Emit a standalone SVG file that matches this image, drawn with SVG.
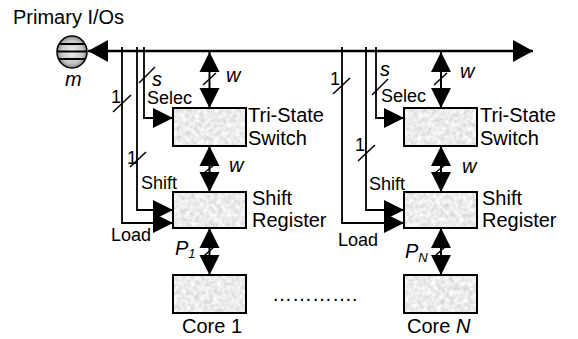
<svg xmlns="http://www.w3.org/2000/svg" width="578" height="339" viewBox="0 0 578 339">
<style>
text{font-family:"Liberation Sans",Arial,sans-serif;fill:#000}
.lbl{font-size:20px}
.sm{font-size:18px}
.it{font-style:italic}
.fillbox{fill:#eeeeee;filter:url(#granite)}
.box{fill:none;stroke:#000;stroke-width:2}
.bus{fill:none;stroke:#000;stroke-width:2.5}
.sl{fill:none;stroke:#000;stroke-width:1.5}
.bi{fill:none;stroke:#000;stroke-width:2;marker-start:url(#ah);marker-end:url(#ah)}
.in{fill:none;stroke:#000;stroke-width:1.8;marker-end:url(#ah)}
</style>
<defs>
<marker id="ah" viewBox="0 0 20 21" refX="20" refY="10.5" markerWidth="20" markerHeight="21" markerUnits="userSpaceOnUse" orient="auto-start-reverse">
<path d="M0,0.5 L20,10.5 L0,20.5 Z" fill="#000"/>
</marker>
<marker id="bh" viewBox="0 0 20 22" refX="20" refY="11" markerWidth="20" markerHeight="22" markerUnits="userSpaceOnUse" orient="auto-start-reverse">
<path d="M0,0 L20,11 L0,22 Z" fill="#000"/>
</marker>
<radialGradient id="io" cx="50%" cy="50%" r="50%">
<stop offset="0" stop-color="#f0f0f0"/>
<stop offset="0.7" stop-color="#c8c8c8"/>
<stop offset="1" stop-color="#8a8a8a"/>
</radialGradient>
<filter id="granite" x="0" y="0" width="1" height="1" color-interpolation-filters="sRGB">
<feTurbulence type="fractalNoise" baseFrequency="0.22" numOctaves="3" seed="7" result="n"/>
<feColorMatrix in="n" type="matrix" values="0.25 0 0 0 0.8  0.25 0 0 0 0.8  0.25 0 0 0 0.8  0 0 0 0 1"/>
</filter>
<clipPath id="ioclip"><ellipse cx="72" cy="52" rx="15" ry="16"/></clipPath>
</defs>

<g id="primary-io">
<text class="lbl" x="13" y="24" font-size="21">Primary I/Os</text>
<ellipse cx="72" cy="52" rx="15" ry="16" fill="url(#io)" stroke="#000" stroke-width="1.5"/>
<g clip-path="url(#ioclip)" stroke="#000" stroke-width="2">
<line x1="55" y1="44" x2="90" y2="44"/>
<line x1="55" y1="51.5" x2="90" y2="51.5"/>
<line x1="55" y1="59" x2="90" y2="59"/>
</g>
<text class="lbl it" x="65" y="86">m</text>
</g>

<g id="tristate1">
<rect class="fillbox" x="173" y="108" width="73" height="38"/>
<rect class="box" x="173" y="108" width="73" height="38"/>
<text class="lbl" x="248" y="122">Tri-State</text>
<text class="lbl" x="248" y="145">Switch</text>
</g>
<g id="shiftreg1">
<rect class="fillbox" x="173" y="192" width="73" height="36"/>
<rect class="box" x="173" y="192" width="73" height="36"/>
<text class="lbl" x="252" y="205">Shift</text>
<text class="lbl" x="252" y="227">Register</text>
</g>
<g id="core1">
<rect class="fillbox" x="173" y="275" width="73" height="38"/>
<rect class="box" x="173" y="275" width="73" height="38"/>
<text class="lbl" x="182" y="333">Core 1</text>
</g>
<g id="tristateN">
<rect class="fillbox" x="404" y="108" width="73" height="38"/>
<rect class="box" x="404" y="108" width="73" height="38"/>
<text class="lbl" x="480" y="122">Tri-State</text>
<text class="lbl" x="480" y="145">Switch</text>
</g>
<g id="shiftregN">
<rect class="fillbox" x="404" y="192" width="73" height="36"/>
<rect class="box" x="404" y="192" width="73" height="36"/>
<text class="lbl" x="482" y="205">Shift</text>
<text class="lbl" x="482" y="227">Register</text>
</g>
<g id="coreN">
<rect class="fillbox" x="404" y="275" width="73" height="38"/>
<rect class="box" x="404" y="275" width="73" height="38"/>
<text class="lbl" x="407" y="333">Core <tspan class="it">N</tspan></text>
</g>
<g id="dots">
<text class="lbl" x="272" y="301">………….</text>
</g>

<g id="connectors">
<line class="bus" x1="88" y1="51" x2="533" y2="51" marker-start="url(#bh)" marker-end="url(#bh)"/>

<path class="in" d="M122,47 V223 H173"/>
<path class="in" d="M137,47 V210 H173"/>
<path class="in" d="M144,47 V118 H173"/>
<line class="sl" x1="113" y1="112" x2="131" y2="95"/>
<line class="sl" x1="130" y1="167" x2="146" y2="152"/>
<line class="sl" x1="139" y1="83" x2="155" y2="67"/>
<text class="sm" x="111" y="103">1</text>
<text class="sm" x="127" y="164">1</text>
<text class="lbl it" x="152" y="86">s</text>
<text class="sm" x="147" y="104">Selec</text>
<text class="sm" x="141" y="189">Shift</text>
<text class="sm" x="111" y="241">Load</text>

<line class="bi" x1="209.5" y1="52" x2="209.5" y2="108"/>
<line class="sl" x1="203" y1="85" x2="216" y2="73"/>
<text class="lbl it" x="226" y="82">w</text>
<line class="bi" x1="209.5" y1="146" x2="209.5" y2="192"/>
<line class="sl" x1="204" y1="173" x2="214" y2="165"/>
<text class="lbl it" x="229" y="172">w</text>
<line class="bi" x1="209.5" y1="228" x2="209.5" y2="275"/>
<line class="sl" x1="203" y1="257" x2="216" y2="245"/>
<text class="lbl it" x="175" y="255">P<tspan font-size="13" dy="3">1</tspan></text>

<path class="in" d="M342,47 V223 H404"/>
<path class="in" d="M366,47 V210 H404"/>
<path class="in" d="M376,47 V118 H404"/>
<line class="sl" x1="333" y1="94" x2="350" y2="78"/>
<line class="sl" x1="358" y1="161" x2="375" y2="145"/>
<line class="sl" x1="372" y1="95" x2="388" y2="79"/>
<text class="sm" x="330" y="85">1</text>
<text class="sm" x="355" y="151">1</text>
<text class="lbl it" x="380" y="76">s</text>
<text class="sm" x="381" y="102">Selec</text>
<text class="sm" x="369" y="190">Shift</text>
<text class="sm" x="338" y="246">Load</text>

<line class="bi" x1="441" y1="52" x2="441" y2="108"/>
<line class="sl" x1="434" y1="85" x2="447" y2="73"/>
<text class="lbl it" x="460" y="78">w</text>
<line class="bi" x1="441" y1="146" x2="441" y2="192"/>
<line class="sl" x1="435" y1="173" x2="445" y2="165"/>
<text class="lbl it" x="462" y="173">w</text>
<line class="bi" x1="441" y1="228" x2="441" y2="275"/>
<line class="sl" x1="434" y1="257" x2="447" y2="245"/>
<text class="lbl it" x="405" y="258">P<tspan font-size="13" dy="4">N</tspan></text>
</g>
</svg>
